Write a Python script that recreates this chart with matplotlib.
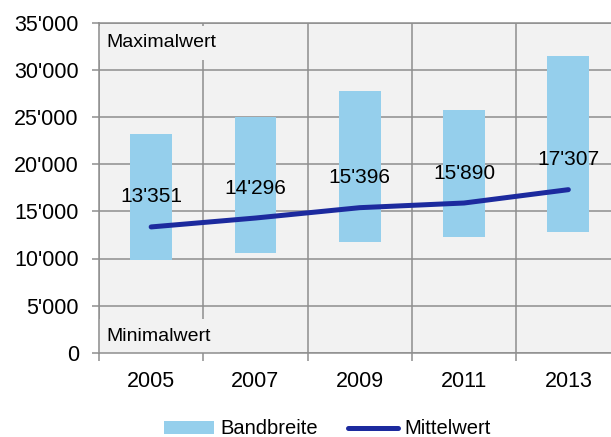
import matplotlib
matplotlib.use("Agg")
import matplotlib.pyplot as plt
from matplotlib.patches import Patch
from matplotlib.lines import Line2D
from matplotlib.ticker import FuncFormatter, FixedLocator

plt.rcParams["font.family"] = ["Liberation Sans", "DejaVu Sans"]

years = ["2005", "2007", "2009", "2011", "2013"]
band_min = [9850, 10550, 11750, 12300, 12800]
band_max = [23200, 25050, 27800, 25750, 31500]
mean_value = [13351, 14296, 15396, 15890, 17307]

BAR_COLOR = "#95cfec"
LINE_COLOR = "#1c2a9e"
GRID_COLOR = "#8e8e8e"
BG_COLOR = "#f2f2f2"


def swiss(v, _pos=None):
    return f"{v:,.0f}".replace(",", "'")


def main():
    fig = plt.figure(figsize=(6.11, 4.37), dpi=100)
    ax = fig.add_axes([99 / 611, 84.3 / 437, 521.5 / 611, 329.7 / 437])
    ax.set_facecolor(BG_COLOR)

    x = list(range(len(years)))
    heights = [hi - lo for lo, hi in zip(band_min, band_max)]
    ax.bar(x, heights, bottom=band_min, width=0.4, color=BAR_COLOR, zorder=2)
    ax.plot(x, mean_value, color=LINE_COLOR, lw=3.6,
            solid_capstyle="round", zorder=3)

    for xi, v in zip(x, mean_value):
        ax.annotate(swiss(v), (xi, v), xytext=(0, 21.6),
                    textcoords="offset points", ha="center", va="center",
                    fontsize=15, zorder=4)

    ax.set_xlim(-0.5, len(years) - 0.5)
    ax.set_ylim(0, 35000)
    ax.set_yticks(range(0, 35001, 5000))
    ax.yaxis.set_major_formatter(FuncFormatter(swiss))
    ax.set_xticks(x)
    ax.set_xticklabels(years)
    ax.xaxis.set_minor_locator(FixedLocator([i - 0.5 for i in range(len(years) + 1)]))

    ax.tick_params(axis="y", length=5, width=1.1, color=GRID_COLOR,
                   pad=9.5, labelsize=15.5)
    ax.tick_params(axis="x", which="major", length=0, pad=13, labelsize=15.5)
    ax.tick_params(axis="x", which="minor", length=6, width=1.1, color=GRID_COLOR)

    ax.set_axisbelow(True)
    ax.grid(axis="y", which="major", color=GRID_COLOR, lw=1.1)
    ax.grid(axis="x", which="minor", color=GRID_COLOR, lw=1.1)
    ax.spines["right"].set_visible(False)
    # frame lines sit above the label boxes so only inner gridlines get masked
    for side in ("left", "bottom", "top"):
        ax.spines[side].set_color(GRID_COLOR)
        ax.spines[side].set_linewidth(1.1)
        ax.spines[side].set_zorder(6)

    box = dict(facecolor=BG_COLOR, edgecolor="none", pad=6)
    ax.text(0.015, 0.94, "Maximalwert", transform=ax.transAxes,
            ha="left", va="center", fontsize=14, bbox=box, zorder=5)
    ax.text(0.015, 0.05, "Minimalwert", transform=ax.transAxes,
            ha="left", va="center", fontsize=14, bbox=box, zorder=5)

    handles = [
        Patch(facecolor=BAR_COLOR, edgecolor="none"),
        Line2D([], [], color=LINE_COLOR, lw=3.6, solid_capstyle="round"),
    ]
    fig.legend(handles, ["Bandbreite", "Mittelwert"], loc="center",
               bbox_to_anchor=(327 / 611, 1 - 429 / 437), ncol=2,
               frameon=False, fontsize=14.5, handlelength=2.5,
               handleheight=0.6, handletextpad=0.3, columnspacing=1.5,
               borderpad=0, borderaxespad=0)

    fig.savefig("out.png", dpi=100)


if __name__ == "__main__":
    main()
